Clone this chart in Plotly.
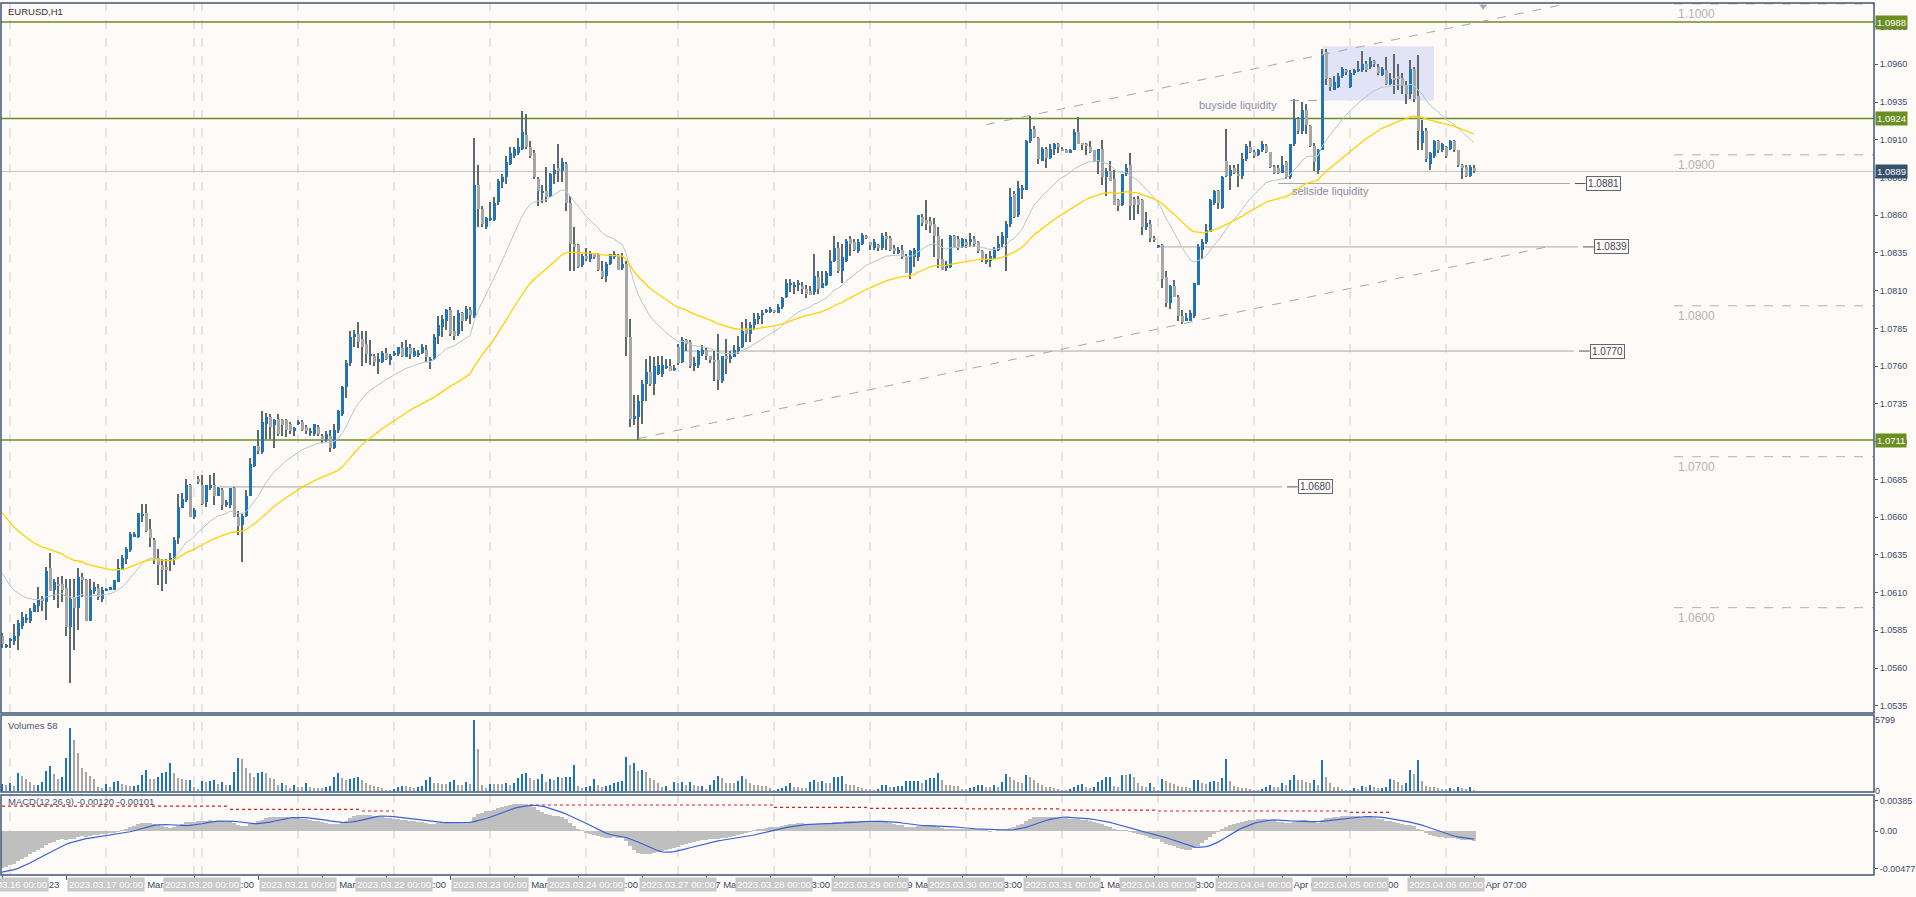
import plotly.graph_objects as go

# ---------------- data ----------------
symbol_title = "EURUSD,H1"
macd_caption_values = (-0.00120, -0.00101)

opens = [
1.0581,1.0574,1.0578,1.0578,1.0581,1.0588,1.0592,1.0591,1.0597,1.0601,
1.0606,1.0604,1.0626,1.0612,1.0616,1.0616,1.0613,1.0587,1.0607,1.0600,
1.0620,1.0618,1.0591,1.0611,1.0613,1.0606,1.06115,1.0612,1.0612,1.0617,
1.0625,1.0632,1.0638,1.0647,1.0647,1.0661,1.0663,1.0652,1.0645,1.0633,
1.0628,1.0627,1.0631,1.0632,1.0646,1.0666,1.0671,1.0681,1.0660,1.0685,
1.0681,1.0670,1.0679,1.0681,1.0674,1.0678,1.0668,1.0668,1.0679,1.0660,
1.0655,1.0661,1.0674,1.0694,1.0707,1.0703,1.0722,1.0726,1.0721,1.0725,
1.0724,1.0724,1.0722,1.0717,1.0722,1.0723,1.0720,1.0716,1.0715,1.0720,
1.0714,1.0712,1.0714,1.0706,1.0718,1.0728,1.0746,1.0762,1.0779,1.0781,
1.0778,1.0775,1.0767,1.0767,1.0763,1.0763,1.0769,1.0764,1.0768,1.0768,
1.0772,1.0766,1.0772,1.0767,1.0768,1.0769,1.0771,1.0764,1.0765,1.0780,
1.0786,1.0790,1.0797,1.0783,1.0781,1.0795,1.0791,1.0797,1.0793,1.0880,
1.0864,1.0852,1.0857,1.0857,1.0869,1.0882,1.0885,1.0894,1.0899,1.0901,
1.0904,1.0913,1.0905,1.0901,1.0884,1.0875,1.0876,1.0873,1.0887,1.0891,
1.0889,1.0894,1.0868,1.0841,1.0840,1.0827,1.0833,1.0831,1.0834,1.0834,
1.0823,1.0820,1.0828,1.0832,1.0833,1.0825,1.0828,1.0779,1.0725,1.0726,
1.0737,1.0748,1.0756,1.0748,1.0755,1.0755,1.0759,1.0760,1.0758,1.0773,
1.0763,1.0777,1.0776,1.0760,1.0761,1.0768,1.0771,1.0767,1.0764,1.0764,
1.0750,1.0767,1.0765,1.0766,1.0770,1.0773,1.0785,1.0781,1.0787,1.0791,
1.0794,1.0796,1.0796,1.0797,1.0795,1.0799,1.0806,1.0814,1.0813,1.0814,
1.0813,1.0811,1.0810,1.0809,1.0819,1.0812,1.0814,1.0820,1.0830,1.0838,
1.0823,1.0830,1.0844,1.0842,1.0836,1.0841,1.0846,1.0842,1.0838,1.0840,
1.0838,1.0846,1.0845,1.0838,1.0835,1.0837,1.0833,1.0822,1.0832,1.0832,
1.0859,1.0857,1.0856,1.0854,1.0846,1.0831,1.0825,1.0826,1.0846,1.0844,
1.0839,1.0842,1.0842,1.0844,1.0842,1.0836,1.0829,1.0830,1.0831,1.0837,
1.0841,1.0845,1.0854,1.0874,1.0860,1.0877,1.0877,1.0909,1.0917,1.0911,
1.0896,1.0904,1.0898,1.0904,1.0907,1.0904,1.0903,1.0901,1.0903,1.0915,
1.09072,1.0907,1.0905,1.0903,1.0895,1.0904,1.0885,1.0889,1.0884,1.0870,
1.0867,1.0887,1.0893,1.0871,1.0871,1.0870,1.0852,1.0854,1.0845,1.0839,
1.0840,1.0819,1.0802,1.0813,1.0806,1.0793,1.0790,1.0790,1.0793,1.0814,
1.0837,1.0842,1.0849,1.0868,1.0876,1.0865,1.0896,1.0886,1.0891,1.0887,
1.0886,1.0897,1.0905,1.0902,1.0900,1.0903,1.0906,1.0902,1.0892,1.0891,
1.0888,1.0895,1.0885,1.0907,1.0924,1.0916,1.0930,1.0919,1.0906,1.0890,
1.0903,1.0968,1.0950,1.0943,1.0945,1.0952,1.0956,1.0945,1.0954,1.0956,
1.0956,1.0960,1.0958,1.0962,1.0958,1.0953,1.0956,1.0947,1.0951,1.0952,
1.0951,1.0946,1.0940,1.0957,1.0939,1.0908,1.0916,1.0894,1.0899,1.0909,
1.0903,1.0905,1.0904,1.0909,1.0903,1.0893,1.0892,1.0886,1.0891]

highs = [
1.0583,1.0576,1.0580,1.0589,1.0592,1.0597,1.0596,1.0600,1.0603,1.0614,
1.0608,1.0627,1.0636,1.0619,1.0620,1.0621,1.0619,1.0619,1.0619,1.0626,
1.0623,1.0619,1.0619,1.0617,1.0616,1.0614,1.0613,1.0614,1.0618,1.0632,
1.0635,1.0640,1.0650,1.0650,1.0663,1.0669,1.0669,1.0659,1.0646,1.0639,
1.0632,1.0632,1.0636,1.0647,1.0675,1.0676,1.0685,1.0682,1.0666,1.0687,
1.0688,1.0681,1.0688,1.0689,1.0680,1.0679,1.0671,1.0679,1.0680,1.0664,
1.0663,1.0678,1.0699,1.0707,1.0718,1.0730,1.0729,1.0728,1.0725,1.0728,
1.0725,1.0725,1.0723,1.0720,1.0724,1.0724,1.0721,1.0719,1.0722,1.0721,
1.0715,1.0717,1.0718,1.0722,1.0731,1.0747,1.0764,1.0783,1.0784,1.0789,
1.0783,1.0783,1.0777,1.0768,1.0769,1.0770,1.0772,1.0768,1.0770,1.0773,
1.0776,1.0777,1.0775,1.0772,1.0771,1.0775,1.0774,1.0766,1.0781,1.0793,
1.0794,1.0798,1.0799,1.0793,1.0797,1.0796,1.0800,1.0799,1.0911,1.0893,
1.0866,1.0859,1.0869,1.0872,1.0884,1.0887,1.0899,1.0905,1.0905,1.0911,
1.0929,1.0927,1.0909,1.0903,1.0885,1.0880,1.0892,1.0888,1.0894,1.0907,
1.0898,1.0895,1.0873,1.0852,1.0841,1.0834,1.0838,1.0836,1.0835,1.0835,
1.0830,1.0829,1.0834,1.0836,1.0834,1.0835,1.0830,1.0791,1.0741,1.0741,
1.0751,1.0765,1.0767,1.0766,1.0767,1.0767,1.0765,1.0765,1.0761,1.0775,
1.0779,1.0778,1.0777,1.0766,1.0771,1.0774,1.0772,1.0767,1.0770,1.0781,
1.0767,1.0778,1.0770,1.0774,1.0780,1.0789,1.0791,1.0789,1.0795,1.0795,
1.0797,1.0798,1.0799,1.0797,1.0801,1.0806,1.0818,1.0818,1.0816,1.0817,
1.0816,1.0814,1.0813,1.0834,1.0823,1.0823,1.0823,1.0837,1.0846,1.0842,
1.0841,1.0844,1.0846,1.0844,1.0844,1.0848,1.0847,1.0842,1.0844,1.0841,
1.0848,1.0849,1.0846,1.0840,1.0839,1.0840,1.0834,1.0837,1.0838,1.0860,
1.0861,1.0870,1.0859,1.0858,1.0852,1.0844,1.0830,1.0847,1.0847,1.0846,
1.0845,1.0844,1.0848,1.0846,1.0843,1.0837,1.0834,1.0836,1.0839,1.0846,
1.0849,1.0856,1.0878,1.0876,1.0883,1.0880,1.0910,1.0926,1.0919,1.0912,
1.0905,1.0905,1.0907,1.0908,1.0908,1.0905,1.0904,1.0904,1.0917,1.0925,
1.0908,1.0908,1.0909,1.0903,1.0904,1.0910,1.0891,1.0896,1.0890,1.0871,
1.0887,1.0894,1.0901,1.0872,1.0873,1.0871,1.0862,1.0857,1.0846,1.0840,
1.0841,1.0823,1.0814,1.0817,1.0807,1.0797,1.0795,1.0797,1.0815,1.0841,
1.0844,1.0854,1.0871,1.0877,1.0877,1.0886,1.0917,1.0893,1.0893,1.0894,
1.0901,1.0907,1.0909,1.0903,1.0904,1.0909,1.0907,1.0902,1.0893,1.0893,
1.0899,1.0896,1.0907,1.0937,1.0925,1.0935,1.0934,1.0920,1.0908,1.0904,
1.0970,1.0970,1.0951,1.0952,1.0954,1.0958,1.0957,1.0956,1.0957,1.0962,
1.0969,1.0962,1.0965,1.0963,1.0960,1.0958,1.0965,1.0954,1.0967,1.0960,
1.0954,1.0949,1.0963,1.0958,1.0966,1.0923,1.0918,1.0902,1.0910,1.0910,
1.0908,1.0906,1.0910,1.0910,1.0903,1.0894,1.0893,1.0893,1.0893]

lows = [
1.0573,1.0573,1.0573,1.0575,1.0572,1.0586,1.0590,1.0590,1.0597,1.0597,
1.0598,1.0592,1.0611,1.0605,1.0600,1.0604,1.0581,1.0550,1.0572,1.0585,
1.0607,1.0591,1.0591,1.0609,1.0605,1.0604,1.0611,1.0612,1.0612,1.0617,
1.0625,1.0629,1.0637,1.0647,1.0646,1.0657,1.0650,1.0640,1.0629,1.0615,
1.0611,1.0616,1.0624,1.0628,1.0642,1.0666,1.0670,1.0660,1.0659,1.0682,
1.0668,1.0667,1.0678,1.0668,1.0674,1.0665,1.0667,1.0666,1.0660,1.0648,
1.0630,1.0660,1.0674,1.0693,1.0702,1.0702,1.0712,1.0712,1.0706,1.0714,
1.0714,1.0713,1.0715,1.0714,1.0721,1.0717,1.0715,1.0714,1.0714,1.0714,
1.0709,1.0710,1.0703,1.0705,1.0716,1.0727,1.0739,1.0760,1.0773,1.0772,
1.0760,1.0762,1.0761,1.0760,1.0755,1.0762,1.0764,1.0761,1.0767,1.0767,
1.0766,1.0766,1.0765,1.0766,1.0766,1.0768,1.0763,1.0758,1.0764,1.0775,
1.0779,1.0784,1.0780,1.0777,1.0780,1.0783,1.0790,1.0788,1.0792,1.0852,
1.0852,1.0851,1.0856,1.0856,1.0867,1.0878,1.0881,1.0893,1.0898,1.0900,
1.0903,1.0904,1.0898,1.0884,1.0866,1.0868,1.0869,1.0872,1.0881,1.0882,
1.0882,1.0863,1.0823,1.0823,1.0825,1.0826,1.0830,1.0829,1.0831,1.0823,
1.0818,1.0816,1.0827,1.0831,1.0824,1.0824,1.0767,1.0720,1.0721,1.0711,
1.0722,1.0737,1.0747,1.0741,1.0754,1.0753,1.0758,1.0757,1.0757,1.0761,
1.0762,1.0770,1.0759,1.0757,1.0759,1.0767,1.0764,1.0762,1.0750,1.0744,
1.0749,1.0755,1.0762,1.0766,1.0768,1.0772,1.0776,1.0776,1.0784,1.0788,
1.0788,1.0795,1.0795,1.0795,1.0795,1.0798,1.0805,1.0809,1.0808,1.0810,
1.0808,1.0805,1.0807,1.0807,1.0808,1.0812,1.0813,1.0820,1.0829,1.0822,
1.0815,1.0829,1.0833,1.0836,1.0835,1.0840,1.0844,1.0837,1.0837,1.0836,
1.0837,1.0837,1.0836,1.0834,1.0834,1.0831,1.0822,1.0818,1.0826,1.0830,
1.0853,1.0850,1.0848,1.0832,1.0825,1.0824,1.0823,1.0825,1.0838,1.0837,
1.0838,1.0838,1.0839,1.0839,1.0835,1.0829,1.0828,1.0826,1.0831,1.0836,
1.0839,1.0823,1.0852,1.0858,1.0859,1.0871,1.0877,1.0908,1.0911,1.0894,
1.0896,1.0891,1.0897,1.0900,1.0901,1.0903,1.0901,1.0901,1.0903,1.0907,
1.0903,1.0900,1.0901,1.0895,1.0887,1.0880,1.0873,1.0883,1.0867,1.0863,
1.0866,1.0886,1.0857,1.0857,1.0861,1.0847,1.0850,1.0842,1.0842,1.0838,
1.0812,1.0799,1.0798,1.0806,1.0790,1.0788,1.0790,1.0790,1.0792,1.0814,
1.0831,1.0841,1.0849,1.0867,1.0864,1.0864,1.0885,1.0877,1.0887,1.0879,
1.0884,1.0896,1.0901,1.0898,1.0899,1.0902,1.0901,1.0891,1.0887,1.0887,
1.0888,1.0884,1.0884,1.0906,1.0914,1.0914,1.0914,1.0905,1.0889,1.0887,
1.0903,1.0946,1.0942,1.0943,1.0944,1.0951,1.0953,1.0944,1.0953,1.0955,
1.0955,1.0955,1.0957,1.0958,1.0953,1.0952,1.0946,1.0946,1.0940,1.0943,
1.0940,1.0934,1.0937,1.0935,1.0903,1.0903,1.0895,1.0890,1.0898,1.0901,
1.0902,1.0898,1.0903,1.0902,1.0892,1.0884,1.0885,1.0885,1.0888]

closes = [
1.0576,1.0575,1.0579,1.0581,1.0590,1.0594,1.0593,1.0598,1.0602,1.0606,
1.0605,1.0624,1.0611,1.0617,1.0615,1.0612,1.0587,1.0606,1.0600,1.0620,
1.0618,1.0591,1.0612,1.0614,1.0607,1.0612,1.0612,1.0614,1.0618,1.0626,
1.0633,1.0639,1.0649,1.0649,1.0663,1.0662,1.0651,1.0646,1.0632,1.0628,
1.0625,1.0625,1.0633,1.0645,1.0667,1.0672,1.0681,1.0660,1.0665,1.0683,
1.0669,1.0681,1.0681,1.0674,1.0679,1.0668,1.0670,1.0679,1.0660,1.0654,
1.0661,1.0674,1.0695,1.0707,1.0704,1.0723,1.0726,1.0720,1.0724,1.0715,
1.0721,1.0718,1.0717,1.0719,1.0723,1.0718,1.0717,1.0717,1.0722,1.0715,
1.0711,1.0715,1.0706,1.0718,1.0730,1.0746,1.0762,1.0779,1.0781,1.0776,
1.0773,1.0768,1.0768,1.0763,1.0765,1.0769,1.0765,1.0767,1.0769,1.0773,
1.0767,1.0773,1.0768,1.0770,1.0769,1.0773,1.0766,1.0765,1.0779,1.0787,
1.0791,1.0797,1.0781,1.0780,1.0795,1.0790,1.0798,1.0794,1.0880,1.0864,
1.0854,1.0858,1.0858,1.0868,1.0883,1.0885,1.0895,1.0901,1.0904,1.0905,
1.0915,1.0905,1.0899,1.0885,1.0876,1.0876,1.0872,1.0887,1.0890,1.0889,
1.0895,1.0868,1.0841,1.0839,1.0826,1.0833,1.0831,1.0834,1.0832,1.0824,
1.0819,1.0828,1.0834,1.0834,1.0824,1.0828,1.0779,1.0725,1.0727,1.0737,
1.0748,1.0756,1.0748,1.0760,1.0761,1.0761,1.0760,1.0757,1.0759,1.0762,
1.0777,1.0775,1.0760,1.0762,1.0770,1.0771,1.0767,1.0764,1.0763,1.0751,
1.0767,1.0765,1.0767,1.0771,1.0773,1.0783,1.0781,1.0787,1.0791,1.0793,
1.0795,1.0797,1.0798,1.0796,1.0799,1.0805,1.0815,1.0815,1.0814,1.0815,
1.0811,1.0808,1.0807,1.0820,1.0811,1.0815,1.0822,1.0830,1.0838,1.0823,
1.0832,1.0843,1.0841,1.0837,1.0842,1.0847,1.0845,1.0840,1.0842,1.0838,
1.0846,1.0844,1.0837,1.0836,1.0837,1.0832,1.0822,1.0836,1.0837,1.0860,
1.0855,1.0854,1.0853,1.0846,1.0831,1.0824,1.0828,1.0846,1.0839,1.0839,
1.0844,1.0840,1.0844,1.0841,1.0836,1.0831,1.0831,1.0833,1.0837,1.0841,
1.0846,1.0854,1.0872,1.0859,1.0878,1.0878,1.0909,1.0917,1.0912,1.0897,
1.0904,1.0898,1.0904,1.0907,1.0905,1.0903,1.0901,1.0903,1.0915,1.0907,
1.0907,1.0906,1.0902,1.0895,1.0904,1.0885,1.0889,1.0883,1.0867,1.0866,
1.0887,1.0891,1.0866,1.0867,1.0867,1.0852,1.0855,1.0845,1.0844,1.0840,
1.0818,1.0802,1.0813,1.0806,1.0793,1.0789,1.0792,1.0795,1.0815,1.0839,
1.0842,1.0850,1.0870,1.0876,1.0868,1.0885,1.0886,1.0890,1.0888,1.0886,
1.0897,1.0906,1.0902,1.0899,1.0903,1.0907,1.0902,1.0892,1.0888,1.0888,
1.0893,1.0885,1.0907,1.0924,1.0916,1.0930,1.0920,1.0906,1.0895,1.0903,
1.0967,1.0950,1.0945,1.0948,1.0952,1.0957,1.0955,1.0954,1.0956,1.0957,
1.0960,1.0956,1.0962,1.0960,1.0954,1.0957,1.0947,1.0950,1.0950,1.0950,
1.0946,1.0940,1.0957,1.0937,1.0916,1.0916,1.0897,1.0901,1.0909,1.0903,
1.0907,1.0899,1.0909,1.0903,1.0893,1.0891,1.0886,1.0892,1.0889]

volumes = [
571,480,626,408,1442,1224,979,762,490,520,
734,1659,2040,1387,1006,1115,2693,5114,4162,3074,
1850,1578,1224,1006,354,218,571,299,708,843,
571,490,408,420,490,1306,1714,979,952,1115,
1496,1578,2312,1442,1034,952,898,920,299,136,
816,762,843,898,571,734,490,500,1578,2666,
2584,1850,1496,1115,1496,1550,1496,1061,979,517,
680,490,218,490,299,290,626,299,272,218,
210,299,408,1170,1496,1034,898,952,1034,1170,
898,626,490,435,299,218,82,70,136,299,
408,400,299,218,299,408,898,1115,626,620,
600,590,762,898,490,480,762,571,5799,3400,
490,250,571,560,550,540,626,490,626,1034,
1387,1496,1034,898,952,1387,762,952,898,1170,
1100,1170,1180,2122,408,218,299,408,952,490,
299,408,490,680,762,800,2747,2122,2312,1659,
1714,1578,1034,898,680,299,408,82,762,626,
762,490,762,490,408,430,136,490,898,1224,
1034,680,670,660,843,1224,979,626,490,480,
408,400,218,27,136,218,408,626,299,290,
280,270,762,898,734,843,680,670,1115,1120,
1224,571,517,463,354,218,136,130,82,136,
490,500,299,354,408,420,816,820,830,840,
680,898,1034,1040,1442,898,490,480,408,400,
136,130,218,354,490,500,299,290,490,354,
762,1387,1115,898,762,680,1306,1115,898,680,
490,299,290,218,136,82,27,136,299,490,
571,299,218,299,762,898,1115,1170,408,299,
1306,1300,1387,1170,680,408,299,626,299,82,
952,843,680,600,408,299,290,280,898,900,
626,600,762,843,762,1034,2584,843,408,299,
218,210,136,82,80,136,299,490,299,290,
626,490,898,1306,898,890,762,680,898,490,
2530,1115,680,354,299,136,82,80,218,136,
408,299,490,299,218,220,299,952,898,762,
490,680,1714,1387,2530,843,408,299,290,218,
136,130,218,136,299,218,136,299,58]

# day separators (bar index of 00:00 of each day) and their labels
day_start_bars = [2, 26, 50, 74, 98, 122, 146, 169, 193, 217, 241, 265, 289, 313, 337, 361]
day_labels = ["2023.03.16 00:00", "2023.03.17 00:00", "2023.03.20 00:00", "2023.03.21 00:00",
              "2023.03.22 00:00", "2023.03.23 00:00", "2023.03.24 00:00", "2023.03.27 00:00",
              "2023.03.28 00:00", "2023.03.29 00:00", "2023.03.30 00:00", "2023.03.31 00:00",
              "2023.04.03 00:00", "2023.04.04 00:00", "2023.04.05 00:00", "2023.04.06 00:00"]
extra_separator_bars = [48]

# indicator settings and their state at the first visible bar
ma_fast_period, ma_fast_start = 20, 1.0623
ma_slow_period, ma_slow_start = 50, 1.0663
macd_fast_period, macd_fast_start = 12, 1.0600
macd_slow_period, macd_slow_start = 26, 1.0647
macd_signal_period, macd_signal_history = 9, -0.0053

# drawn objects
green_levels = [1.0988, 1.0924, 1.0711]
bid_price = 1.0889
round_levels = [1.1000, 1.0900, 1.0800, 1.0700, 1.0600]
marked_levels = [1.0881, 1.0839, 1.0770, 1.0680]
marked_level_from = [319, 289, 170, 54]
marked_level_to = [392, 394, 393, 320]
trend_upper_bars, trend_upper_prices = [246, 391], [1.0920, 1.1000]
trend_lower_bars, trend_lower_prices = [159, 388], [1.0712, 1.0840]
zone_bars, zone_prices = [330.2, 358.0], [1.0936, 1.0972]
buyside_bars, buyside_price = [322, 330], 1.0936
buyside_text_bar, buyside_text_price = 309, 1.0933
sellside_text_bar, sellside_text_price = 332, 1.0876
macd_level_from = [0, 57, 90, 132, 193, 217, 241, 265, 289, 337]
macd_level_to = [57, 90, 98, 193, 217, 241, 265, 289, 337, 347]
macd_level_val = [0.00317, 0.00275, 0.00254, 0.00330, 0.00300, 0.00288, 0.00280, 0.00266, 0.00254, 0.00237]
price_ticks = [round(1.0535 + 0.0025 * k, 4) for k in range(19)]

assert len(opens) == len(highs) == len(lows) == len(closes) == len(volumes) == 369

# ---------------- derived series ----------------
N = len(closes)
idx = list(range(N))


def ema(vals, period, start):
    a = 2.0 / (period + 1)
    out = [start]
    for v in vals[1:]:
        out.append(out[-1] + a * (v - out[-1]))
    return out


ma_fast = ema(closes, ma_fast_period, ma_fast_start)
ma_slow = ema(closes, ma_slow_period, ma_slow_start)
e_fast = ema(closes, macd_fast_period, macd_fast_start)
e_slow = ema(closes, macd_slow_period, macd_slow_start)
macd = [a - b for a, b in zip(e_fast, e_slow)]
hist = [macd_signal_history] * (macd_signal_period - 1) + macd
signal = [sum(hist[i:i + macd_signal_period]) / macd_signal_period for i in range(N)]

# ---------------- style ----------------
BG = "#fdfaf8"
BLUE = "#1f72bd"
GREY = "#a6a6a6"
WICK = "#5a6a6e"
FRAME = "#3d5877"
AXTXT = "#3b4a6a"
OLIVE = "#6b8e23"
FONT = "Liberation Sans"

X0, X1 = -0.25, 468.0
MAIN_DOM = [0.18578, 1.0]
VOL_DOM = [0.09518, 0.18349]
MACD_DOM = [0.0, 0.09174]

fig = go.Figure()

# candles: wicks then bodies (both as bars so the body covers the wick)
wick_lo = [min(l, o, c) for o, l, c in zip(opens, lows, closes)]
wick_hi = [max(h, o, c) for o, h, c in zip(opens, highs, closes)]
fig.add_trace(go.Bar(x=idx, y=[h - l for h, l in zip(wick_hi, wick_lo)], base=wick_lo,
                     width=0.28, marker=dict(color=WICK, line=dict(width=0)),
                     yaxis="y", hoverinfo="skip"))
body_h, body_b, body_c = [], [], []
for o, c in zip(opens, closes):
    h = max(abs(c - o), 0.00006)
    body_h.append(h)
    body_b.append(min(o, c) - (h - abs(c - o)) / 2)
    body_c.append(BLUE if c >= o else GREY)
fig.add_trace(go.Bar(x=idx, y=body_h, base=body_b, width=0.75,
                     marker=dict(color=body_c, line=dict(width=0)), yaxis="y", hoverinfo="skip"))

fig.add_trace(go.Scatter(x=idx, y=ma_fast, mode="lines", line=dict(color="#b5caca", width=1),
                         yaxis="y", hoverinfo="skip"))
fig.add_trace(go.Scatter(x=idx, y=ma_slow, mode="lines", line=dict(color="#ffd200", width=1.3),
                         yaxis="y", hoverinfo="skip"))
fig.add_trace(go.Scatter(x=[370.3], y=[1.09985], mode="markers",
                         marker=dict(symbol="triangle-down", size=7, color="#a9a9a9"),
                         yaxis="y", hoverinfo="skip", cliponaxis=False))

# volumes
vol_c = [BLUE] + [BLUE if volumes[i] > volumes[i - 1] else GREY for i in range(1, N)]
fig.add_trace(go.Bar(x=idx, y=volumes, width=0.6, marker=dict(color=vol_c, line=dict(width=0)),
                     yaxis="y2", hoverinfo="skip"))

# MACD
fig.add_trace(go.Bar(x=idx, y=macd, width=1.0, marker=dict(color="#bfbfbf", line=dict(width=0)),
                     yaxis="y3", hoverinfo="skip"))
fig.add_trace(go.Scatter(x=idx, y=signal, mode="lines", line=dict(color="#3a62d8", width=1.2),
                         yaxis="y3", hoverinfo="skip"))

shapes = []
# vertical separators
for b in day_start_bars + extra_separator_bars:
    shapes.append(dict(type="line", xref="x", yref="paper", x0=b, x1=b, y0=0, y1=1,
                       line=dict(color="#cfcfcf", width=1, dash="dash"), layer="below"))
# zone rectangle
shapes.append(dict(type="rect", xref="x", yref="y", x0=zone_bars[0], x1=zone_bars[1],
                   y0=zone_prices[0], y1=zone_prices[1], fillcolor="#e1e3f7",
                   line=dict(width=0), layer="below"))
# green full-width levels and bid line
for lv in green_levels:
    shapes.append(dict(type="line", xref="x", yref="y", x0=X0, x1=X1, y0=lv, y1=lv,
                       line=dict(color=OLIVE, width=1.5), layer="below"))
shapes.append(dict(type="line", xref="x", yref="y", x0=X0, x1=X1, y0=bid_price, y1=bid_price,
                   line=dict(color="#c2c2c2", width=1), layer="below"))
# round numbers
for lv in round_levels:
    shapes.append(dict(type="line", xref="x", yref="y", x0=418, x1=X1, y0=lv, y1=lv,
                       line=dict(color="#b2b2b2", width=1, dash="dash"), layer="below"))
# marked levels
for lv, a, b in zip(marked_levels, marked_level_from, marked_level_to):
    shapes.append(dict(type="line", xref="x", yref="y", x0=a, x1=b, y0=lv, y1=lv,
                       line=dict(color="#a9a9a9", width=1), layer="below"))
    shapes.append(dict(type="line", xref="x", yref="y", x0=b + 1.25, x1=b + 3.9, y0=lv, y1=lv,
                       line=dict(color="#555555", width=1), layer="below"))
# trend lines
shapes.append(dict(type="line", xref="x", yref="y", x0=trend_upper_bars[0], x1=trend_upper_bars[1],
                   y0=trend_upper_prices[0], y1=trend_upper_prices[1],
                   line=dict(color="#a8a8a8", width=1, dash="dash")))
shapes.append(dict(type="line", xref="x", yref="y", x0=trend_lower_bars[0], x1=trend_lower_bars[1],
                   y0=trend_lower_prices[0], y1=trend_lower_prices[1],
                   line=dict(color="#a8a8a8", width=1, dash="dash")))
shapes.append(dict(type="line", xref="x", yref="y", x0=buyside_bars[0], x1=buyside_bars[1],
                   y0=buyside_price, y1=buyside_price,
                   line=dict(color="#a0a0a0", width=1, dash="dash")))
# MACD stepped level (behind the histogram)
for a, b, v in zip(macd_level_from, macd_level_to, macd_level_val):
    shapes.append(dict(type="line", xref="x", yref="y3", x0=a, x1=b, y0=v, y1=v,
                       line=dict(color="#d02525", width=1.2, dash="dot"), layer="below"))
# pane frames
for dom in (MAIN_DOM, VOL_DOM, MACD_DOM):
    shapes.append(dict(type="rect", xref="paper", yref="paper", x0=0, x1=1, y0=dom[0], y1=dom[1],
                       line=dict(color=FRAME, width=1.5), fillcolor="rgba(0,0,0,0)", layer="above"))

ann = []
# pane captions
ann.append(dict(text=symbol_title, xref="paper", yref="paper", x=0, y=0.9908, xanchor="left",
                yanchor="middle", xshift=5, showarrow=False, font=dict(family=FONT, size=9.5, color="#333333")))
ann.append(dict(text="Volumes %d" % volumes[-1], xref="paper", yref="paper", x=0, y=0.1720,
                xanchor="left", yanchor="middle", xshift=5, showarrow=False,
                font=dict(family=FONT, size=9.5, color="#4a5570")))
ann.append(dict(text="MACD(12,26,9) %.5f %.5f" % macd_caption_values, xref="paper", yref="paper",
                x=0, y=0.0841, xanchor="left", yanchor="middle", xshift=5, showarrow=False,
                font=dict(family=FONT, size=9.5, color="#4a5570")))
# right axis price boxes
for lv in green_levels:
    ann.append(dict(text="%.4f" % lv, xref="paper", yref="y", x=1, y=lv, xanchor="left",
                    yanchor="middle", xshift=1, showarrow=False, bgcolor=OLIVE, borderpad=1,
                    font=dict(family=FONT, size=9.5, color="white")))
ann.append(dict(text="%.4f" % bid_price, xref="paper", yref="y", x=1, y=bid_price, xanchor="left",
                yanchor="middle", xshift=1, showarrow=False, bgcolor="#34506c", borderpad=1,
                font=dict(family=FONT, size=9.5, color="white")))
# round number labels
for lv in round_levels:
    ann.append(dict(text="%.4f" % lv, xref="x", yref="y", x=418.5, y=lv, xanchor="left",
                    yanchor="top", yshift=-1, showarrow=False,
                    font=dict(family=FONT, size=12, color="#b3b3b3")))
# marked level boxes
for lv, b in zip(marked_levels, marked_level_to):
    ann.append(dict(text="%.4f" % lv, xref="x", yref="y", x=b + 8.4, y=lv, xanchor="center",
                    yanchor="middle", showarrow=False, bgcolor=BG, bordercolor="#666666",
                    borderwidth=1, borderpad=1, font=dict(family=FONT, size=10, color="#44475c")))
# liquidity captions
ann.append(dict(text="buyside liquidity", xref="x", yref="y", x=buyside_text_bar, y=buyside_text_price,
                showarrow=False, font=dict(family=FONT, size=11, color="#8a8da3")))
ann.append(dict(text="sellside liquidity", xref="x", yref="y", x=sellside_text_bar, y=sellside_text_price,
                showarrow=False, font=dict(family=FONT, size=11, color="#8a8da3")))


# time axis: regular labels first, grey day labels on top
def bar_label(i):
    if i < day_start_bars[0]:
        return "15 Mar 2023"
    d = max(k for k, s in enumerate(day_start_bars) if s <= i)
    lab = day_labels[d]
    mon = "Mar" if lab[5:7] == "03" else "Apr"
    return "%d %s %02d:00" % (int(lab[8:10]), mon, i - day_start_bars[d])


time_ticks = list(range(0, N, 16))
for t in time_ticks:
    ann.append(dict(text=bar_label(t), xref="x", yref="paper", x=t, y=-0.0105, xanchor="left",
                    yanchor="middle", xshift=2, showarrow=False,
                    font=dict(family=FONT, size=9.5, color=AXTXT)))
for b, lab in zip(day_start_bars, day_labels):
    ann.append(dict(text=lab, xref="x", yref="paper", x=b, y=-0.0105, xanchor="center",
                    yanchor="middle", showarrow=False, bgcolor="#c9c9c9", borderpad=1,
                    font=dict(family=FONT, size=9.5, color="white")))

axis_font = dict(family=FONT, size=9, color=AXTXT)
fig.update_layout(
    width=1916, height=897, autosize=False,
    margin=dict(l=1, r=42, t=3, b=22, pad=0),
    paper_bgcolor=BG, plot_bgcolor=BG,
    barmode="overlay", bargap=0, showlegend=False, hovermode=False,
    font=dict(family=FONT, size=9, color=AXTXT),
    shapes=shapes, annotations=ann,
    xaxis=dict(domain=[0, 1], range=[X0, X1], anchor="y3", showgrid=False, zeroline=False,
               tickmode="array", tickvals=time_ticks, ticks="outside", ticklen=4, tickcolor=FRAME,
               showticklabels=False, showline=False, fixedrange=True),
    yaxis=dict(domain=MAIN_DOM, range=[1.05302, 1.10006], side="right", anchor="x",
               tickmode="array", tickvals=price_ticks, ticktext=["%.4f" % v for v in price_ticks],
               ticks="outside", ticklen=3, tickcolor=FRAME, showgrid=False, zeroline=False,
               tickfont=axis_font, automargin=False, fixedrange=True),
    yaxis2=dict(domain=VOL_DOM, range=[-82, 6207], side="right", anchor="x",
                tickmode="array", tickvals=[0, 5799], ticktext=["0", "5799"], ticks="",
                showgrid=False, zeroline=False, tickfont=axis_font, automargin=False, fixedrange=True),
    yaxis3=dict(domain=MACD_DOM, range=[-0.005588, 0.004572], side="right", anchor="x",
                tickmode="array", tickvals=[0.00385, 0.0, -0.00477],
                ticktext=["0.00385", "0.00", "-0.00477"], ticks="outside", ticklen=3, tickcolor=FRAME,
                showgrid=False, zeroline=False, tickfont=axis_font, automargin=False, fixedrange=True),
)

fig.write_html("out.html", include_plotlyjs=True, config={"displayModeBar": False},
               post_script="document.body.style.margin='0';document.body.style.overflow='hidden';")
